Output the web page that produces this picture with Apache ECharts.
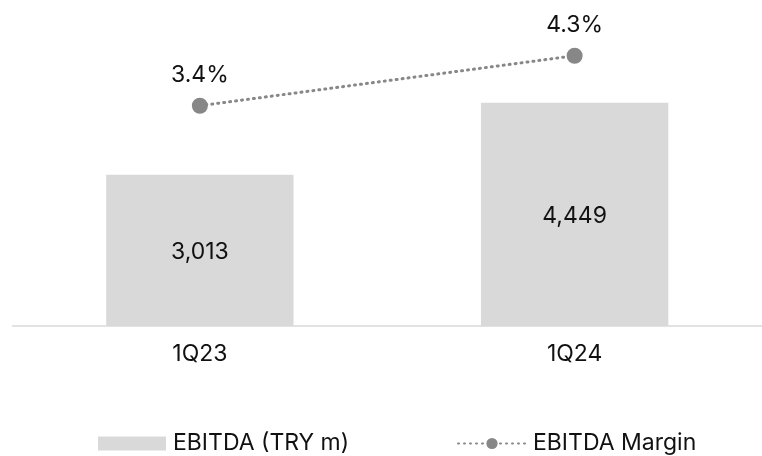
<!DOCTYPE html>
<html>
<head>
<meta charset="utf-8">
<style>
  html, body { margin: 0; padding: 0; background: #fff; }
  #chart { width: 762px; height: 456px; }
</style>
<script src="https://cdn.jsdelivr.net/npm/echarts@6/dist/echarts.min.js"></script>
</head>
<body>
<div id="chart"></div>
<script>
// Quarterly EBITDA (bars, left axis) and EBITDA margin (dotted line, right axis)
const categories = ['1Q23', '1Q24'];
const ebitda = [3013, 4449];
const ebitdaMargin = [3.4, 4.3];

const FONT = 'Inter, "Noto Sans", sans-serif';
const TEXT = '#111111';
const SIZE = 23;

const legendBase = {
  top: 427,
  itemWidth: 68,
  itemHeight: 14,
  textStyle: { fontFamily: FONT, fontSize: SIZE, color: TEXT, padding: [0, 0, 0, 2] }
};

const chart = echarts.init(document.getElementById('chart'));
chart.setOption({
  animation: false,
  textStyle: { fontFamily: FONT },
  grid: { left: 12.5, width: 762, top: 25, bottom: 130 },
  legend: [
    Object.assign({ left: 93, data: [{ name: 'EBITDA (TRY m)', icon: 'rect' }] }, legendBase),
    Object.assign({ left: 452, data: [{ name: 'EBITDA Margin' }] }, legendBase)
  ],
  xAxis: {
    type: 'category',
    data: categories,
    axisLine: { show: true, lineStyle: { color: '#d9d9d9', width: 1.5 } },
    axisTick: { show: false },
    axisLabel: { fontFamily: FONT, fontSize: SIZE, color: TEXT, margin: 17 }
  },
  yAxis: [
    { type: 'value', min: 0, max: 6000, show: false, splitLine: { show: false } },
    { type: 'value', min: -0.565, max: 4.853, show: false, splitLine: { show: false } }
  ],
  series: [
    {
      name: 'EBITDA (TRY m)',
      type: 'bar',
      data: ebitda,
      barWidth: '50%',
      itemStyle: { color: '#d9d9d9' },
      label: {
        show: true,
        position: 'inside',
        offset: [0, 2],
        fontFamily: FONT,
        fontSize: SIZE,
        color: TEXT,
        formatter: p => p.value.toLocaleString('en-US')
      }
    },
    {
      name: 'EBITDA Margin',
      type: 'line',
      yAxisIndex: 1,
      data: ebitdaMargin,
      symbol: 'circle',
      symbolSize: 16,
      itemStyle: { color: '#878787' },
      lineStyle: { color: '#878787', width: 3, type: [1, 5], cap: 'round' },
      label: {
        show: true,
        position: 'top',
        distance: 11,
        fontFamily: FONT,
        fontSize: SIZE,
        color: TEXT,
        formatter: p => p.value.toFixed(1) + '%'
      }
    }
  ]
});
</script>
</body>
</html>
